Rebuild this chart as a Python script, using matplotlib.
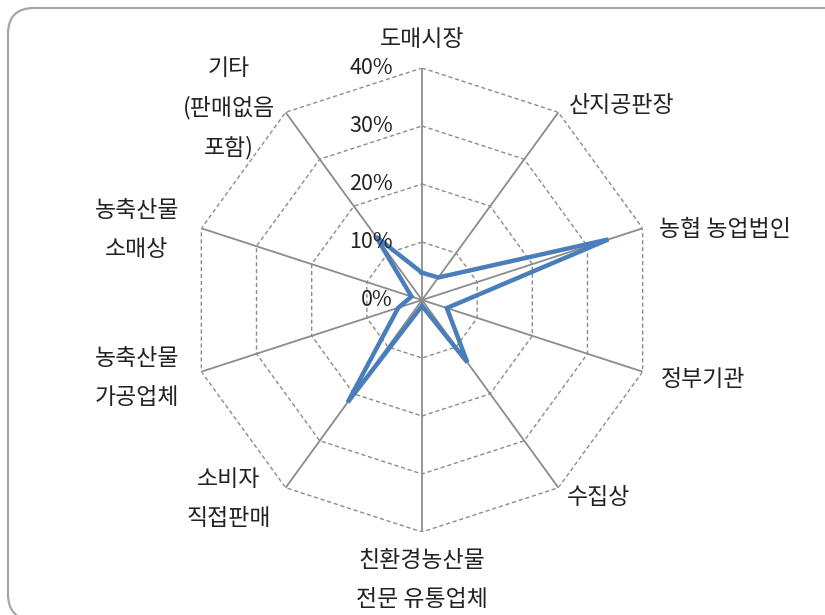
import numpy as np
import matplotlib
matplotlib.use("Agg")
import matplotlib.pyplot as plt
from matplotlib.patches import FancyBboxPatch

plt.rcParams['font.family'] = ['Noto Sans CJK KR', 'DejaVu Sans']

categories = ["도매시장", "산지공판장", "농협 농업법인", "정부기관", "수집상",
              "친환경농산물\n전문 유통업체", "소비자\n직접판매", "농축산물\n가공업체",
              "농축산물\n소매상", "기타\n(판매없음\n포함)"]
values = [4.7, 4.8, 33.8, 4.5, 13.3, 1.0, 21.8, 4.3, 1.9, 13.5]
ring_levels = [0, 10, 20, 30, 40]
ring_labels = ["0%", "10%", "20%", "30%", "40%"]

W, H = 825, 615
fig = plt.figure(figsize=(W / 100, H / 100), dpi=100)

# rounded frame (inches, origin bottom-left)
frame = FancyBboxPatch((0.08, -0.05), 8.45, 6.12, boxstyle="round,pad=0,rounding_size=0.26",
                       transform=fig.dpi_scale_trans, facecolor="none", edgecolor="#a6a6a6",
                       linewidth=1.6, zorder=0)
fig.add_artist(frame)

cx, cy, R = 422, 300, 232
ax = fig.add_axes([(cx - R) / W, (H - cy - R) / H, 2 * R / W, 2 * R / H], polar=True)
ax.set_theta_offset(np.pi / 2)
ax.set_theta_direction(-1)
ax.set_ylim(0, 40)
ax.grid(False)
ax.set_xticks([])
ax.set_yticks([])
ax.spines['polar'].set_visible(False)
ax.patch.set_alpha(0)

n = len(categories)
angles = np.linspace(0, 2 * np.pi, n, endpoint=False)
closed = np.concatenate([angles, angles[:1]])

for lv in ring_levels[1:]:
    ax.plot(closed, [lv] * (n + 1), color="#8c8c8c", linewidth=1.0,
            linestyle=(0, (3, 2)), zorder=1)
for a in angles:
    ax.plot([a, a], [0, 40], color="#8c8c8c", linewidth=1.3, zorder=1)

vals = np.array(values + values[:1])
ax.plot(closed, vals, color="#4a7ebb", linewidth=3.2, zorder=3,
        solid_joinstyle="miter")

# ring labels
for lv, lab in zip(ring_levels, ring_labels):
    y = cy - lv / 40 * R
    fig.text(393 / W, 1 - y / H, lab, ha="right", va="center", fontsize=15.5, color="#222222")

# category labels (pixel positions)
pos = [
    (422, 40, "center"),
    (569, 106, "left"),
    (659, 229, "left"),
    (661, 379, "left"),
    (567, 497, "left"),
    (422, 580, "center"),
    (229, 499, "center"),
    (137, 378, "center"),
    (137, 230, "center"),
    (229, 108, "center"),
]
for (x, y, ha), lab in zip(pos, categories):
    fig.text(x / W, 1 - y / H, lab, ha=ha, va="center", fontsize=16.5,
             color="#222222", linespacing=1.85)

fig.savefig("out.png", dpi=100)
